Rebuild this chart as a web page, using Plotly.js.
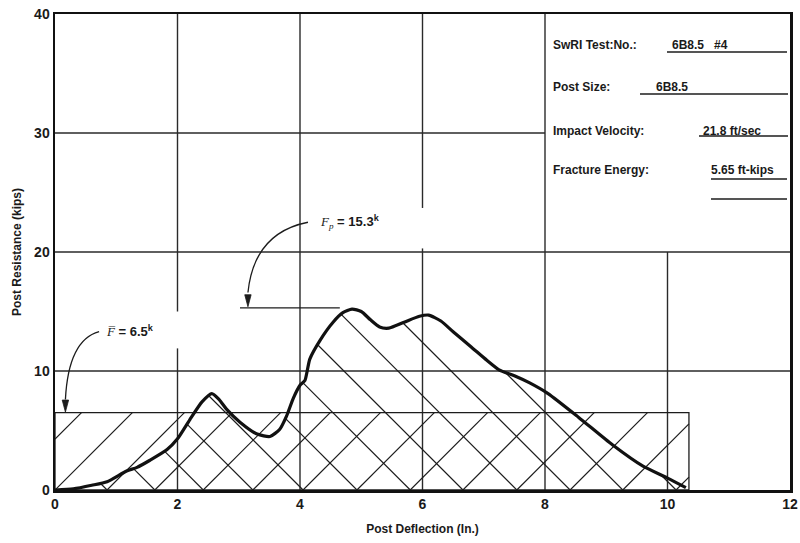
<!DOCTYPE html>
<html><head><meta charset="utf-8">
<script src="https://cdn.plot.ly/plotly-3.0.1.min.js"></script>
<style>html,body{margin:0;padding:0;background:#fff;}#chart{width:800px;height:543px;}</style>
</head><body><div id="chart"></div>
<script>
// ---- data ----
const deflection = [0,0.3,0.6,0.85,1.17,1.34,1.55,1.83,2.0,2.2,2.4,2.56,2.68,2.8,3.02,3.3,3.51,3.67,3.78,3.89,4.0,4.08,4.16,4.33,4.54,4.7,4.85,5.0,5.15,5.3,5.45,5.7,5.95,6.1,6.3,6.5,6.8,7.05,7.25,7.5,7.75,8.05,8.55,9.1,9.6,10.0,10.3];
const resistance = [0,0.1,0.4,0.7,1.6,1.9,2.5,3.4,4.3,5.9,7.4,8.1,7.6,6.8,5.7,4.7,4.5,5.1,6.2,7.7,8.8,9.2,11.0,12.6,14.1,14.9,15.2,15.0,14.3,13.7,13.6,14.1,14.6,14.7,14.2,13.3,12.0,10.9,10.1,9.6,9.0,8.1,6.1,3.8,2.0,1.0,0.2];
const avgForce = 6.5;          // F-bar (kips)
const avgForceEnd = 10.35;     // end of the average-force block (in.)
const peakForce = 15.3;        // Fp (kips)
const hatchStarts = [-0.83,0,0.85,1.63,2.42,3.23,4.05,4.93,5.80,6.66,7.54,8.41,9.27,10.14];
const xTicks = [0,2,4,6,8,10,12];
const yTicks = [0,10,20,30,40];
const infoLabels = ["SwRI Test:No.:","Post Size:","Impact Velocity:","Fracture Energy:"];
const infoValues = ["6B8.5   #4","6B8.5","21.8 ft/sec","5.65 ft-kips"];

// ---- layout geometry ----
const W=800,H=543, M={l:55,r:10,t:14,b:53};
const xR=[0,12], yR=[0,40];
const PW=W-M.l-M.r, PH=H-M.t-M.b;
const k = (PW/(xR[1]-xR[0]))/(PH/(yR[1]-yR[0])); // slope giving 45deg on screen
const px2x = p => (p-M.l)/PW;          // paper x from pixel
const py2y = p => (H-M.b-p)/PH;        // paper y from pixel
const ux = 1/(PW/(xR[1]-xR[0])), uy = 1/(PH/(yR[1]-yR[0])); // data units per pixel

function curveAt(x){
  if(x<deflection[0]||x>deflection[deflection.length-1]) return 0;
  for(let i=1;i<deflection.length;i++){
    if(x<=deflection[i]){
      const t=(x-deflection[i-1])/(deflection[i]-deflection[i-1]);
      return resistance[i-1]+t*(resistance[i]-resistance[i-1]);
    }
  }
  return 0;
}

// "/" hatch inside the average-force block
const fx=[],fy=[];
hatchStarts.forEach(b=>{
  const y0=Math.max(0,-b*k), y1=Math.min(avgForce,(avgForceEnd-b)*k);
  if(y1>y0){ fx.push(b+y0/k,b+y1/k,null); fy.push(y0,y1,null); }
});
// "\" hatch under the resistance curve
const bx=[],by=[];
hatchStarts.forEach(b=>{
  if(b<=0) return;
  const inside = y => { const x=b-y/k; return x>=0 && y<=curveAt(x) && curveAt(x)>0; };
  const ymax=b*k, step=0.02;
  let start=null, prev=false;
  for(let y=0;y<=ymax+step;y+=step){
    const yy=Math.min(y,ymax);
    const ins=inside(yy);
    if(ins&&!prev){ start=yy; }
    if(!ins&&prev){
      let lo=yy-step,hi=yy;
      for(let j=0;j<25;j++){const m=(lo+hi)/2; if(inside(m)) lo=m; else hi=m;}
      bx.push(b-start/k,b-lo/k,null); by.push(start,lo,null);
    }
    prev=ins;
    if(yy>=ymax) break;
  }
});

const ink='#1c1c1c';
const traces=[
  {x:[0,avgForceEnd,avgForceEnd,0,0], y:[0,0,avgForce,avgForce,0], mode:'lines',
   line:{color:ink,width:1.3}, hoverinfo:'skip', showlegend:false},
  {x:fx,y:fy,mode:'lines',line:{color:ink,width:1.2},hoverinfo:'skip',showlegend:false},
  {x:bx,y:by,mode:'lines',line:{color:ink,width:1.2},hoverinfo:'skip',showlegend:false},
  {x:deflection,y:resistance,mode:'lines',line:{color:'#111',width:3.2,shape:'spline',smoothing:0.6},
   hoverinfo:'skip',showlegend:false}
];

const gl={color:'#2a2a2a',width:1.4};
const seg=(x0,y0,x1,y1,line)=>({type:'line',xref:'x',yref:'y',x0,y0,x1,y1,line:line||gl,layer:'below'});
const arrowHead=(xt,yt)=>({type:'path',xref:'x',yref:'y',
  path:`M ${xt} ${yt} L ${xt-3.2*ux} ${yt+12*uy} L ${xt+3.2*ux} ${yt+12*uy} Z`,
  fillcolor:ink,line:{color:ink,width:0.8}});
const shapes=[
  seg(2,0,2,11.9), seg(2,15.0,2,40),
  seg(4,0,4,40),
  seg(6,0,6,20.3), seg(6,23.7,6,40),
  seg(8,0,8,40),
  seg(10,0,10,20),
  seg(0,10,12,10), seg(0,20,12,20), seg(0,30,8,30),
  // peak force marker line
  {type:'line',xref:'x',yref:'y',x0:3.02,x1:4.65,y0:peakForce,y1:peakForce,line:{color:ink,width:1.2}},
  // curved leader lines with arrowheads
  {type:'path',xref:'x',yref:'y',path:'M 4.13 22.5 Q 3.25 21.6 3.15 16.6',line:{color:ink,width:1.3}},
  {type:'path',xref:'x',yref:'y',path:'M 0.72 13.3 Q 0.22 12.6 0.17 7.6',line:{color:ink,width:1.3}},
  arrowHead(3.15,peakForce+0.1),
  arrowHead(0.17,avgForce+0.05)
];
// underlines in the info box
[[667,787,52],[640,788,94],[699,788,136],[711,787,179],[711,787,199]].forEach(u=>{
  shapes.push({type:'line',xref:'paper',yref:'paper',x0:px2x(u[0]),x1:px2x(u[1]),y0:py2y(u[2]),y1:py2y(u[2]),
    line:{color:ink,width:1.4}});
});

const sans='"Liberation Sans",Arial,Helvetica,sans-serif';
const tf={family:sans,size:12,color:'#1a1a1a',weight:'bold'};
const serifF='<span style="font-family:\'Liberation Serif\',serif;font-weight:normal"><i>';
const annotations=[
  {xref:'x',yref:'y',x:4.3,y:22.5,xanchor:'left',yanchor:'middle',showarrow:false,
   text:serifF+'F<sub>p</sub></i></span> = 15.3<sup>k</sup>',font:{family:sans,size:13,color:'#1a1a1a',weight:'bold'}},
  {xref:'x',yref:'y',x:0.8,y:13.4,xanchor:'left',yanchor:'middle',showarrow:false,
   text:serifF+'F\u0305</i></span> = 6.5<sup>k</sup>',font:{family:sans,size:13,color:'#1a1a1a',weight:'bold'}}
];
const infoY=[45,87,131,170], valX=[670,654,701,709];
infoLabels.forEach((t,i)=>{
  annotations.push({xref:'paper',yref:'paper',x:px2x(551),y:py2y(infoY[i]),xanchor:'left',yanchor:'middle',
    showarrow:false,text:t,font:{...tf,size:12}});
  annotations.push({xref:'paper',yref:'paper',x:px2x(valX[i]),y:py2y(infoY[i]),xanchor:'left',yanchor:'middle',
    showarrow:false,text:infoValues[i],font:{...tf,size:12}});
});

const layout={
  width:W,height:H,margin:M,paper_bgcolor:'#fff',plot_bgcolor:'#fff',
  showlegend:false,
  xaxis:{range:xR,tickvals:xTicks,ticktext:xTicks.map(String),showgrid:false,zeroline:false,
    showline:true,mirror:true,linecolor:'#111',linewidth:2.5,ticks:'',tickfont:{...tf,size:14},
    title:{text:'Post Deflection (In.)',font:{...tf,size:12},standoff:14}},
  yaxis:{range:yR,tickvals:yTicks,ticktext:yTicks.map(String),showgrid:false,zeroline:false,
    showline:true,mirror:true,linecolor:'#111',linewidth:2.5,ticks:'',tickfont:{...tf,size:14},
    title:{text:'Post Resistance (kips)',font:{...tf,size:12},standoff:10}},
  shapes, annotations
};
Plotly.newPlot('chart',traces,layout,{staticPlot:true,displayModeBar:false});
</script></body></html>
